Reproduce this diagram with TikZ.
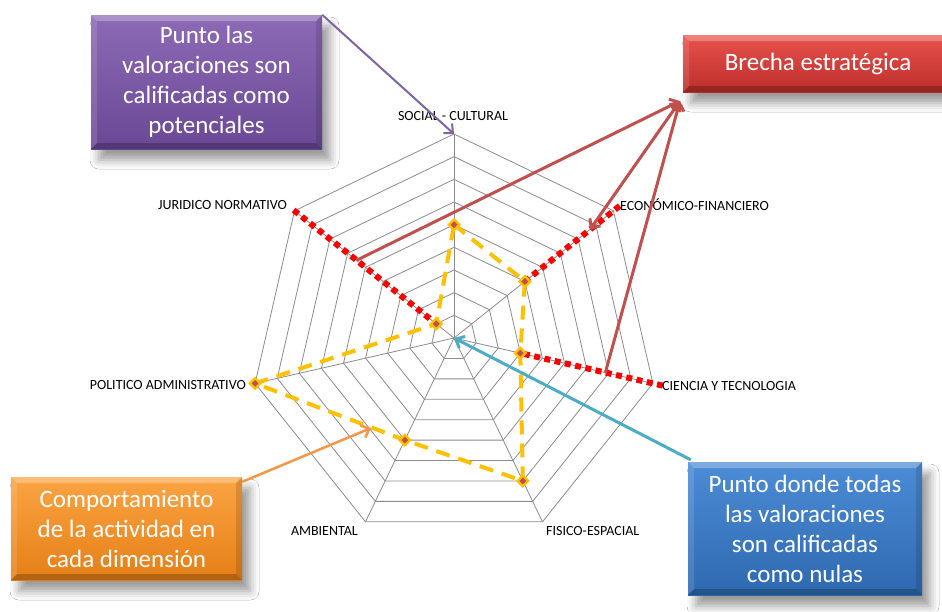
\documentclass[tikz,border=0pt]{standalone}
\usepackage{fontspec}
\setmainfont{Carlito}
\usetikzlibrary{arrows.meta,shapes.geometric,shadows.blur}
\definecolor{gridc}{HTML}{8C8C8C}
\definecolor{yel}{HTML}{FFC000}
\definecolor{mk}{HTML}{C0504D}
\definecolor{arrred}{HTML}{C0504D}
\definecolor{arrpurp}{HTML}{8064A2}
\definecolor{arrorange}{HTML}{F79646}
\definecolor{arrblue}{HTML}{4BACC6}
\definecolor{purpT}{HTML}{8C6AB6}
\definecolor{purpB}{HTML}{6A4895}
\definecolor{redT}{HTML}{E8524C}
\definecolor{redB}{HTML}{BC2E2B}
\definecolor{orT}{HTML}{FBA443}
\definecolor{orB}{HTML}{E57F16}
\definecolor{blT}{HTML}{4C8CD6}
\definecolor{blB}{HTML}{2E69B0}
\tikzset{
  gridline/.style={draw=gridc, line width=0.8pt},
  gapline/.style={draw=red, line width=6pt, dash pattern=on 6pt off 4.5pt},
  actline/.style={draw=yel, line width=4pt, dash pattern=on 14pt off 9pt},
  ymark/.style={diamond, fill=yel, minimum size=14pt, inner sep=0pt},
  rmark/.style={diamond, fill=mk, minimum size=7pt, inner sep=0pt},
  axlabel/.style={font=\fontsize{14}{16}\selectfont, inner sep=0pt, text=black},
  callout/.style={rectangle, inner sep=0pt, align=center, text=white,
    font=\fontsize{25}{30}\selectfont,
    blur shadow={shadow xshift=8pt, shadow yshift=-11pt, shadow blur radius=9pt, shadow opacity=40},
    path picture={
      \fill[white,opacity=0.28] (path picture bounding box.north west) -- (path picture bounding box.north east)
        -- ([shift={(-6pt,-6pt)}]path picture bounding box.north east) -- ([shift={(6pt,-6pt)}]path picture bounding box.north west) -- cycle;
      \fill[white,opacity=0.12] (path picture bounding box.north west) -- ([shift={(6pt,-6pt)}]path picture bounding box.north west)
        -- ([shift={(6pt,6pt)}]path picture bounding box.south west) -- (path picture bounding box.south west) -- cycle;
      \fill[black,opacity=0.22] (path picture bounding box.south west) -- (path picture bounding box.south east)
        -- ([shift={(-6pt,6pt)}]path picture bounding box.south east) -- ([shift={(6pt,6pt)}]path picture bounding box.south west) -- cycle;
      \fill[black,opacity=0.12] (path picture bounding box.north east) -- ([shift={(-6pt,-6pt)}]path picture bounding box.north east)
        -- ([shift={(-6pt,6pt)}]path picture bounding box.south east) -- (path picture bounding box.south east) -- cycle;
    }},
  headtip/.style={-{Straight Barb[length=7pt,width=13pt]}},
}
\begin{document}
\begin{tikzpicture}[x=1pt,y=-1pt]
\useasboundingbox (0,0) rectangle (942,611);
\fill[white] (0,0) rectangle (942,611);

% radar grid
\coordinate (C) at (454,338);
\foreach \k in {0,...,6}{
  \foreach \r in {1,...,9}{
    \coordinate (p\k-\r) at ({454+\r*22.667*sin(\k*360/7)},{338-\r*22.667*cos(\k*360/7)});
  }
}
\foreach \r in {1,...,9}
  \draw[gridline] (p0-\r) -- (p1-\r) -- (p2-\r) -- (p3-\r) -- (p4-\r) -- (p5-\r) -- (p6-\r) -- cycle;
\foreach \k in {0,...,6}
  \draw[gridline] (C) -- (p\k-9);

% helper coordinates
\coordinate (e1) at ({454+9.35*22.667*sin(360/7)},{338-9.35*22.667*cos(360/7)});
\coordinate (e2) at ({454+9.45*22.667*sin(720/7)},{338-9.45*22.667*cos(720/7)});
\coordinate (e6) at ({454+9.05*22.667*sin(2160/7)},{338-9.05*22.667*cos(2160/7)});
\coordinate (s6) at ({454+5.5*22.667*sin(2160/7)},{338-5.5*22.667*cos(2160/7)});
\coordinate (s1) at ({454+7.67*22.667*sin(360/7)},{338-7.67*22.667*cos(360/7)});
\coordinate (s2) at ({454+6.85*22.667*sin(720/7)},{338-6.85*22.667*cos(720/7)});

% gaps (red dotted)
\draw[gapline] (e6) -- (p6-1);
\draw[gapline] (e1) -- (p1-4);
\draw[gapline] (e2) -- (p2-3);

% activity profile
\draw[actline] (p0-5) -- (p1-4) -- (p2-3) -- (p3-7) -- (p4-5) -- (p5-9) -- (p6-1) -- cycle;
\foreach \n/\p in {0/p0-5,1/p1-4,2/p2-3,3/p3-7,4/p4-5,5/p5-9,6/p6-1}{
  \node[ymark] (ym\n) at (\p) {};
  \node[rmark] (rm\n) at (\p) {};
}

% axis labels
\node[axlabel] (lsoc) at (453,116) {SOCIAL - CULTURAL};
\node[axlabel, anchor=east] (ljur) at (287,205) {JURIDICO NORMATIVO};
\node[axlabel, anchor=west] (leco) at (620,205) {ECONÓMICO-FINANCIERO};
\node[axlabel, anchor=west] (lcie) at (662,386) {CIENCIA Y TECNOLOGIA};
\node[axlabel, anchor=west] (lfis) at (546,531) {FISICO-ESPACIAL};
\node[axlabel, anchor=east] (lamb) at (358,531) {AMBIENTAL};
\node[axlabel, anchor=east] (lpol) at (246,385) {POLITICO ADMINISTRATIVO};

% callout boxes
\node[callout, top color=purpT, bottom color=purpB, minimum width=231pt, minimum height=134pt] (purple) at (206.5,82)
  {Punto las\\valoraciones son\\calificadas como\\potenciales};
\node[callout, top color=redT, bottom color=redB, minimum width=270pt, minimum height=57pt] (brecha) at (818,63.5)
  {Brecha estratégica};
\node[callout, top color=orT, bottom color=orB, minimum width=231pt, minimum height=103pt] (orange) at (126.5,528.5)
  {Comportamiento\\de la actividad en\\cada dimensión};
\node[callout, top color=blT, bottom color=blB, minimum width=234pt, minimum height=133pt] (blue) at (805,528.5)
  {Punto donde todas\\las valoraciones\\son calificadas\\como nulas};

% connectors
\coordinate (bt) at (680,101);
\coordinate (ot) at (371,428);
\draw[headtip, draw=arrred, line width=3pt] (s6) -- (bt);
\draw[{Straight Barb[length=7pt,width=13pt]}-{Straight Barb[length=7pt,width=13pt]}, draw=arrred, line width=3pt] (s1) -- (bt);
\draw[headtip, draw=arrred, line width=3pt] (s2) -- (bt);
\draw[headtip, draw=arrpurp, line width=2pt] (purple.north east) -- (p0-9);
\draw[headtip, draw=arrorange, line width=2.5pt] ([yshift=-5pt]orange.north east) -- (ot);
\draw[headtip, draw=arrblue, line width=3pt] ([shift={(3pt,2pt)}]blue.north west) -- (C);
\end{tikzpicture}
\end{document}
